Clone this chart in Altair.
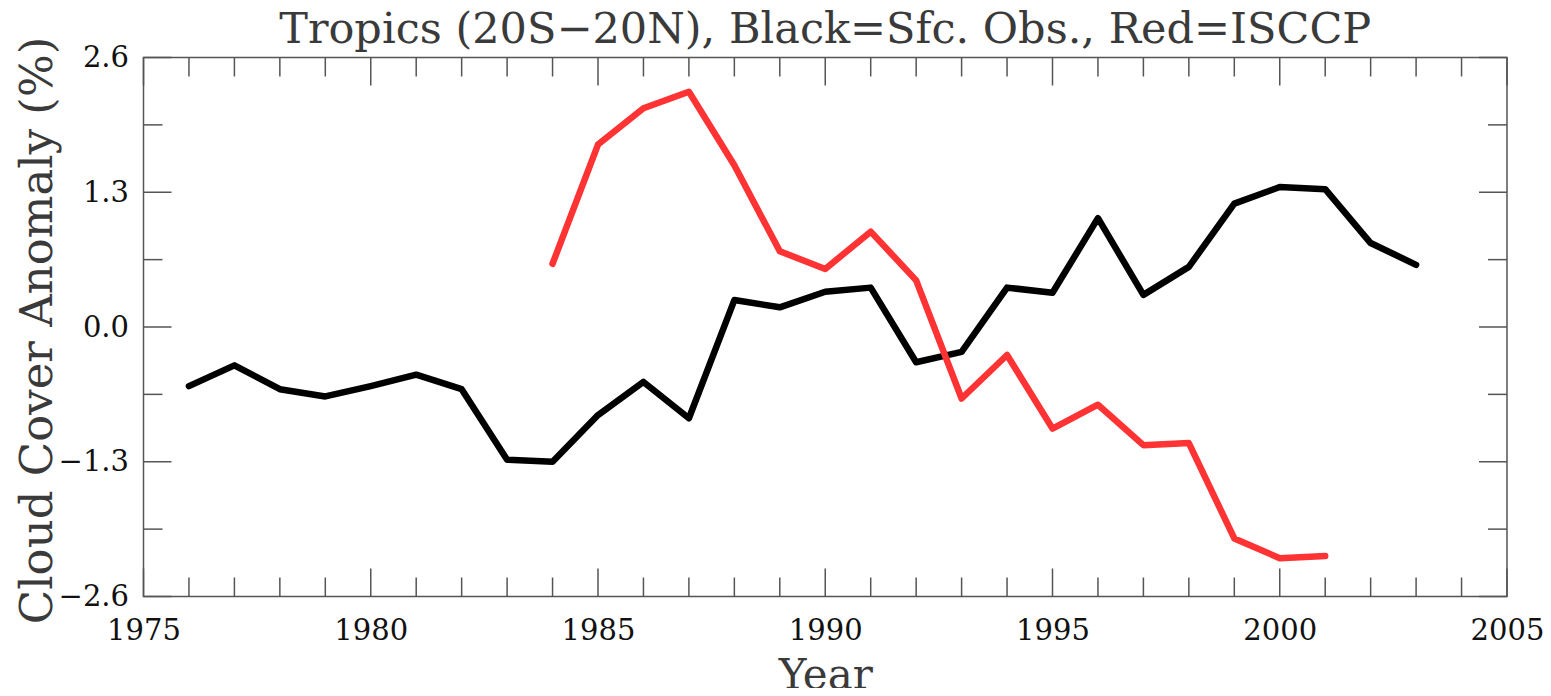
import altair as alt
import pandas as pd

# ---- data ----
sfc_years = list(range(1976, 2004))
sfc_values = [-0.57, -0.37, -0.60, -0.67, -0.57, -0.46, -0.60, -1.28, -1.30, -0.85,
              -0.53, -0.88, 0.26, 0.19, 0.34, 0.38, -0.34, -0.24, 0.38, 0.33,
              1.05, 0.31, 0.58, 1.19, 1.35, 1.33, 0.81, 0.60]

isccp_years = list(range(1984, 2002))
isccp_values = [0.61, 1.76, 2.11, 2.27, 1.56, 0.73, 0.56, 0.92, 0.45, -0.69,
                -0.27, -0.98, -0.75, -1.14, -1.12, -2.04, -2.23, -2.21]

x_label_values = [1975, 1980, 1985, 1990, 1995, 2000, 2005]
y_label_values = [-2.6, -1.3, 0.0, 1.3, 2.6]
x_minor_ticks = list(range(1975, 2006))
y_minor_ticks = [-1.95, -0.65, 0.65, 1.95]
title_text = "Tropics (20S\u221220N), Black=Sfc. Obs., Red=ISCCP"

W = 1363.5
H = 539
FONT = "DejaVu Serif"
TXT = "#3a3a3a"
FRAME = "#555555"

df = pd.concat([
    pd.DataFrame({"Year": sfc_years, "Anomaly": sfc_values, "series": "Sfc. Obs."}),
    pd.DataFrame({"Year": isccp_years, "Anomaly": isccp_values, "series": "ISCCP"}),
])

xscale = alt.Scale(domain=[1975, 2005], nice=False, zero=False)
yscale = alt.Scale(domain=[-2.6, 2.6], nice=False, zero=False)

lines = alt.Chart(df).mark_line(strokeWidth=6.5, strokeJoin="round", strokeCap="round").encode(
    x=alt.X("Year:Q", scale=xscale,
            axis=alt.Axis(values=x_label_values, format="d", ticks=False, tickSize=0, domain=False,
                          grid=False, labelFont=FONT, labelFontSize=29, labelColor="#111111",
                          labelPadding=20, labelFlush=False, labelOverlap=False,
                          title="Year", titleFont=FONT, titleFontSize=42, titleFontWeight="normal",
                          titleColor=TXT, titleY=92, titleBaseline="alphabetic")),
    y=alt.Y("Anomaly:Q", scale=yscale,
            axis=alt.Axis(values=y_label_values, format=".1f", ticks=False, tickSize=0, domain=False,
                          grid=False, labelFont=FONT, labelFontSize=29, labelColor="#111111",
                          labelPadding=15, labelFlush=False, labelOverlap=False,
                          title="Cloud Cover Anomaly (%)", titleFont=FONT, titleFontSize=45,
                          titleFontWeight="normal", titleColor=TXT, titleX=-92, titleY=H / 2 + 3,
                          titleAlign="center", titleBaseline="alphabetic", titleAngle=270)),
    color=alt.Color("series:N", scale=alt.Scale(domain=["Sfc. Obs.", "ISCCP"],
                                                range=["#000000", "#ff3333"]), legend=None),
    detail="series:N",
)

xmajor = pd.DataFrame({"Year": [v for v in x_minor_ticks if v % 5 == 0]})
xminor = pd.DataFrame({"Year": [v for v in x_minor_ticks if v % 5 != 0]})
ymajor = pd.DataFrame({"Anomaly": y_label_values})
yminor = pd.DataFrame({"Anomaly": y_minor_ticks})

tick_style = dict(color=FRAME, strokeWidth=1.5)

def xt(data, length):
    top = alt.Chart(data).mark_rule(**tick_style).encode(
        x=alt.X("Year:Q", scale=xscale), y=alt.value(0), y2=alt.value(length))
    bot = alt.Chart(data).mark_rule(**tick_style).encode(
        x=alt.X("Year:Q", scale=xscale), y=alt.value(H), y2=alt.value(H - length))
    return top + bot

def yt(data, length):
    left = alt.Chart(data).mark_rule(**tick_style).encode(
        y=alt.Y("Anomaly:Q", scale=yscale), x=alt.value(0), x2=alt.value(length))
    right = alt.Chart(data).mark_rule(**tick_style).encode(
        y=alt.Y("Anomaly:Q", scale=yscale), x=alt.value(W), x2=alt.value(W - length))
    return left + right

title_mark = alt.Chart(pd.DataFrame({"t": [title_text]})).mark_text(
    font=FONT, fontSize=43, color=TXT, align="center", baseline="alphabetic"
).encode(text="t:N", x=alt.value(W / 2), y=alt.value(-14.5))

chart = alt.layer(
    xt(xmajor, 28), xt(xminor, 19), yt(ymajor, 28), yt(yminor, 19), lines, title_mark
).properties(
    width=W, height=H,
    autosize=alt.AutoSizeParams(type="none"),
    padding={"left": 135.5, "top": 49.5, "right": 36, "bottom": 91.5},
    background="white",
).configure_view(stroke=FRAME, strokeWidth=1.5)

chart.save("out.html", embed_options={"renderer": "svg", "actions": False})
